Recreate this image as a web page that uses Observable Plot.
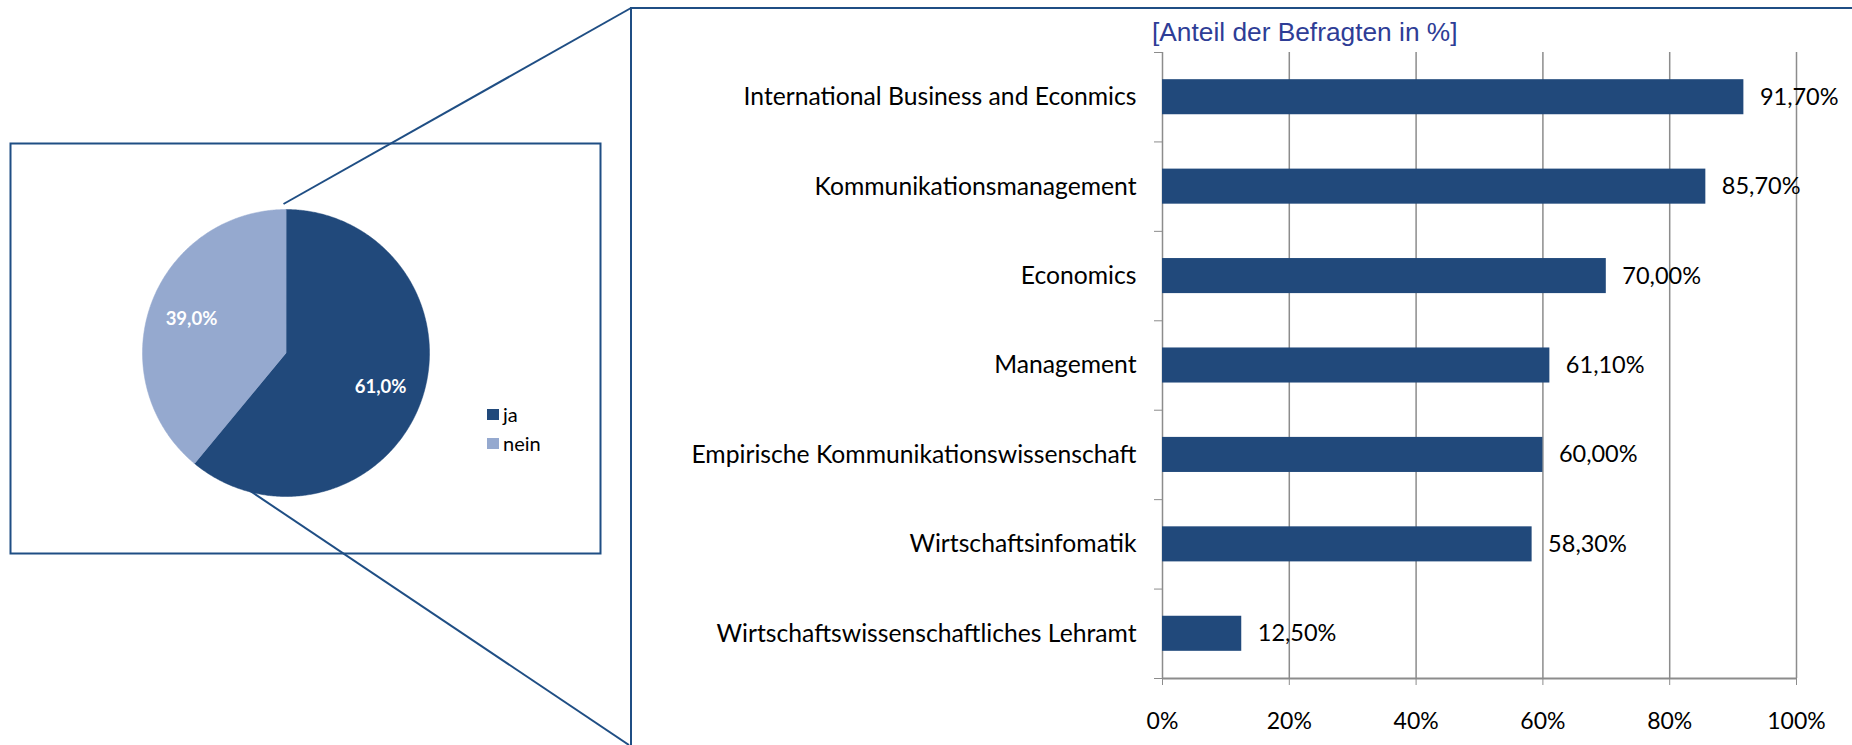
<!DOCTYPE html>
<html>
<head>
<meta charset="utf-8">
<script src="https://cdn.jsdelivr.net/npm/d3@7"></script>
<script src="https://cdn.jsdelivr.net/npm/@observablehq/plot@0.6"></script>
<style>
  html, body { margin: 0; padding: 0; background: #fff; }
  #wrap { position: relative; width: 1852px; height: 745px; overflow: hidden; font-family: Lato, "Open Sans", sans-serif; }
  .abs { position: absolute; }
  .legend-sq { position: absolute; width: 12px; height: 11px; }
  .legend-tx { position: absolute; font-size: 20px; line-height: 20px; color: #000; }
  #title { position: absolute; left: 1152px; top: 19px; font-family: "Liberation Sans", Arial, sans-serif; font-size: 26.3px; line-height: 26px; color: #2E3D96; white-space: nowrap; }
</style>
</head>
<body>
<div id="wrap">
  <svg class="abs" id="deco" width="1852" height="745" style="left:0;top:0">
    <polyline points="631,745 631,8 1852,8" fill="none" stroke="#1F4E84" stroke-width="2"/>
    <line x1="283.5" y1="204" x2="631" y2="8" stroke="#1F4E84" stroke-width="2"/>
    <line x1="207" y1="462" x2="629" y2="745" stroke="#1F4E84" stroke-width="2"/>
  </svg>
  <div id="pie" class="abs" style="left:9px;top:142px"></div>
  <div id="bars" class="abs" style="left:640px;top:0px"></div>
  <div id="title">[Anteil der Befragten in %]</div>
  <div id="legend"></div>
</div>
<script>
// ---- Data ----
const pieLabels = ["ja", "nein"];
const pieValues = [61.0, 39.0];
const pieColors = ["#21497B", "#95A9CF"];

const categories = [
  "International Business and Econmics",
  "Kommunikationsmanagement",
  "Economics",
  "Management",
  "Empirische Kommunikationswissenschaft",
  "Wirtschaftsinfomatik",
  "Wirtschaftswissenschaftliches Lehramt"
];
const shares = [91.7, 85.7, 70.0, 61.1, 60.0, 58.3, 12.5];
const xTicks = [0, 20, 40, 60, 80, 100];

// ---- Pie (drawn through Plot x/y scales, unit-circle coordinates) ----
const pieW = 592, pieH = 412, pcx = 276.5, pcy = 210.5, pr = 143.5;
const total = d3.sum(pieValues);
const slicePts = [];
const sliceLabels = [];
let acc = 0;
pieValues.forEach((v, k) => {
  const a0 = acc / total * 2 * Math.PI;
  acc += v;
  const a1 = acc / total * 2 * Math.PI;
  slicePts.push({name: pieLabels[k], x: 0, y: 0});
  const n = Math.max(2, Math.ceil((a1 - a0) / (Math.PI / 360)));
  for (let j = 0; j <= n; j++) {
    const a = a0 + (a1 - a0) * j / n;
    slicePts.push({name: pieLabels[k], x: Math.sin(a), y: Math.cos(a)});
  }
  const m = (a0 + a1) / 2;
  sliceLabels.push({name: pieLabels[k], x: 0.7 * Math.sin(m), y: 0.7 * Math.cos(m),
                    text: v.toFixed(1).replace(".", ",") + "%"});
});

const pie = Plot.plot({
  width: pieW, height: pieH,
  marginLeft: 0, marginRight: 0, marginTop: 0, marginBottom: 0,
  style: {background: "transparent", overflow: "visible", fontFamily: "Lato"},
  x: {domain: [-pcx / pr, (pieW - pcx) / pr], range: [0, pieW], axis: null},
  y: {domain: [-(pieH - pcy) / pr, pcy / pr], range: [pieH, 0], axis: null},
  color: {domain: pieLabels, range: pieColors},
  marks: [
    Plot.frame({stroke: "#1F4E84", strokeWidth: 2, inset: 1}),
    Plot.line(slicePts, {x: "x", y: "y", z: "name", fill: "name", stroke: "name", strokeWidth: 0.5, curve: "linear-closed"}),
    Plot.text(sliceLabels, {x: "x", y: "y", text: "text", fill: "white", fontWeight: "bold", fontSize: 18.5})
  ]
});
document.getElementById("pie").appendChild(pie);

// Legend
const legend = document.getElementById("legend");
pieLabels.forEach((lab, k) => {
  const sq = document.createElement("div");
  sq.className = "legend-sq";
  sq.style.left = "487px";
  sq.style.top = (409 + k * 29) + "px";
  sq.style.background = pieColors[k];
  legend.appendChild(sq);
  const tx = document.createElement("div");
  tx.className = "legend-tx";
  tx.style.left = "503px";
  tx.style.top = (404 + k * 29) + "px";
  tx.textContent = lab;
  legend.appendChild(tx);
});

// ---- Bars ----
const rows = categories.map((c, i) => ({name: c, value: shares[i], i}));
const bounds = d3.range(-0.5, categories.length, 1);
const grid = "#8C8C8C";
const half = 0.196;

const bars = Plot.plot({
  width: 1212, height: 745,
  marginLeft: 522, marginRight: 56, marginTop: 52, marginBottom: 67,
  style: {background: "transparent", overflow: "visible", fontFamily: "Lato", fontSize: "23px", color: "black"},
  x: {domain: [0, 100]},
  y: {domain: [-0.5, categories.length - 0.5], reverse: true},
  marks: [
    Plot.ruleX(xTicks, {stroke: grid, strokeWidth: 1.5}),
    Plot.ruleY([categories.length - 0.5], {stroke: grid, strokeWidth: 2}),
    Plot.axisX({ticks: xTicks, tickSize: 7, tickPadding: 27, stroke: grid, fill: "black", fontSize: 23,
                tickFormat: d => d + "%", label: null}),
    Plot.axisY({ticks: bounds, tickSize: 8, stroke: grid, tickFormat: () => "", label: null}),
    Plot.rectX(rows, {x1: 0, x2: "value", y1: d => d.i - half, y2: d => d.i + half, fill: "#21497B"}),
    Plot.text(rows, {x: 0, y: "i", text: "name", textAnchor: "end", dx: -26, fontSize: 24.7, fill: "black"}),
    Plot.text(rows, {x: "value", y: "i", text: d => d.value.toFixed(2).replace(".", ",") + "%",
                     textAnchor: "start", dx: 16, fontSize: 23.5, fill: "black"})
  ]
});
document.getElementById("bars").appendChild(bars);
</script>
</body>
</html>
